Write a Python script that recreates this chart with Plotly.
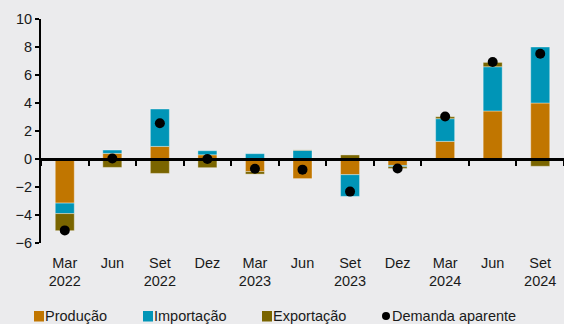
import plotly.graph_objects as go

# Quarterly contributions (p.p.) to apparent demand
periods = ["Mar 2022", "Jun 2022", "Set 2022", "Dez 2022", "Mar 2023", "Jun 2023",
           "Set 2023", "Dez 2023", "Mar 2024", "Jun 2024", "Set 2024"]
tick_labels = ["Mar<br>2022", "Jun", "Set<br>2022", "Dez", "Mar<br>2023", "Jun",
               "Set<br>2023", "Dez", "Mar<br>2024", "Jun", "Set<br>2024"]

producao = [-3.15, 0.40, 0.90, 0.30, -0.90, -1.40, -1.12, -0.46, 1.26, 3.43, 4.00]
importacao = [-0.75, 0.24, 2.67, 0.29, 0.38, 0.62, -1.55, -0.09, 1.62, 3.16, 4.00]
exportacao = [-1.22, -0.60, -1.03, -0.62, -0.18, 0.03, 0.29, -0.13, 0.14, 0.31, -0.52]
demanda = [-5.10, 0.03, 2.55, 0.00, -0.70, -0.76, -2.33, -0.68, 3.04, 6.93, 7.52]

series_names = ["Produção", "Importação", "Exportação", "Demanda aparente"]
colors = ["#C17600", "#0095B7", "#7A6500", "#000000"]

FONT = "Liberation Sans, Arial, sans-serif"
BG = "#EBEBED"

fig = go.Figure()
for name, vals, col in zip(series_names[:3], [producao, importacao, exportacao], colors[:3]):
    fig.add_trace(go.Bar(
        x=periods, y=vals, name=name, width=0.4,
        marker=dict(color=col, line=dict(color="rgba(255,255,255,0.45)", width=0.8)),
        showlegend=False,
    ))

fig.add_trace(go.Scatter(
    x=periods, y=demanda, name=series_names[3], mode="markers",
    marker=dict(color=colors[3], size=10), xaxis="x2", showlegend=False,
))

axis_font = dict(family=FONT, size=14.5, color="#1a1a1a")

fig.update_layout(
    width=564, height=324,
    margin=dict(l=41, r=0, t=19, b=81),
    paper_bgcolor=BG, plot_bgcolor=BG,
    barmode="relative",
    font=axis_font,
    xaxis=dict(
        type="category", categoryorder="array", categoryarray=periods,
        range=[-0.5, len(periods) - 0.5],
        tickvals=periods, ticktext=tick_labels,
        showline=False, showgrid=False, zeroline=False, ticks="",
        tickfont=axis_font, ticklabelstandoff=9,
    ),
    xaxis2=dict(
        type="category", categoryorder="array", categoryarray=periods,
        range=[-0.5, len(periods) - 0.5],
        overlaying="x", anchor="free", position=6 / 16,
        showline=True, linecolor="#000000", linewidth=2.5,
        ticks="outside", tickson="boundaries", ticklen=5, tickwidth=2,
        tickcolor="#000000", showticklabels=False, showgrid=False, zeroline=False,
    ),
    yaxis=dict(
        range=[-6, 10], dtick=2, tick0=0,
        showline=True, linecolor="#000000", linewidth=2,
        ticks="outside", ticklen=4, tickwidth=2, tickcolor="#000000",
        showgrid=False, zeroline=False, tickfont=axis_font,
    ),
)

# Legend row: swatch shapes plus text, placed in paper coordinates
plot_left, plot_w, plot_bottom, plot_h = 41, 523, 243, 224


def px_x(v):
    return (v - plot_left) / plot_w


def px_y(v):
    return (plot_bottom - v) / plot_h


legend_x_px = [34, 143, 262, 382]
for i, (name, col, px) in enumerate(zip(series_names, colors, legend_x_px)):
    if i < 3:
        fig.add_shape(type="rect", xref="paper", yref="paper",
                      x0=px_x(px), x1=px_x(px + 10), y0=px_y(321.5), y1=px_y(311),
                      fillcolor=col, line=dict(width=0))
        text_x = px + 9
    else:
        fig.add_shape(type="circle", xref="paper", yref="paper",
                      x0=px_x(px), x1=px_x(px + 8), y0=px_y(320), y1=px_y(312),
                      fillcolor=col, line=dict(width=0))
        text_x = px + 7.5
    fig.add_annotation(
        x=px_x(text_x), y=px_y(315.5),
        xref="paper", yref="paper", xanchor="left", yanchor="middle",
        showarrow=False, text=name,
        font=dict(family=FONT, size=14.5, color="#1a1a1a"),
    )

fig.write_html("out.html")
